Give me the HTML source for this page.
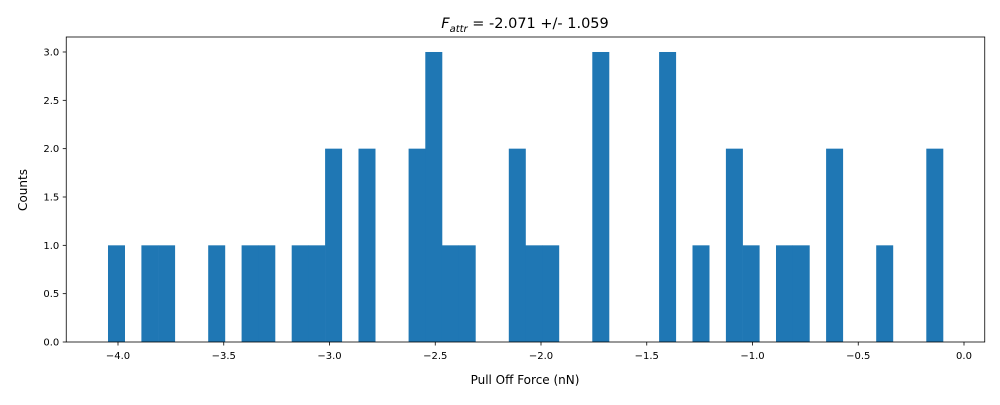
<!DOCTYPE html>
<html><head><meta charset="utf-8"><style>
body{margin:0;background:#fff}
text{font-family:"DejaVu Sans","Liberation Sans",sans-serif;fill:#000}
</style></head><body>
<svg id="chart" width="1000" height="400" xmlns="http://www.w3.org/2000/svg">
<rect width="1000" height="400" fill="#fff"/>
<text x="525" y="28" font-size="14.5" text-anchor="middle"><tspan font-style="italic">F</tspan><tspan font-style="italic" font-size="10" dy="4">attr</tspan><tspan dy="-4"> = -2.071 +/- 1.059</tspan></text>
<g id="bars"></g>
<g id="axes"></g>
<text x="525" y="384" font-size="12" text-anchor="middle">Pull Off Force (nN)</text>
<text x="0" y="0" font-size="12" text-anchor="middle" transform="translate(27,190) rotate(-90)">Counts</text>
</svg>
<script>
const binStart = -4.0473;
const binWidth = 0.07896;
const counts = [1,0,1,1,0,0,1,0,1,1,0,1,1,2,0,2,0,0,2,3,1,1,0,0,2,1,1,0,0,3,0,0,0,3,0,1,0,2,1,0,1,1,0,2,0,0,1,0,0,2];
const xTicks = [-4.0,-3.5,-3.0,-2.5,-2.0,-1.5,-1.0,-0.5,0.0];
const yTicks = [0,0.5,1.0,1.5,2.0,2.5,3.0];

const L=66.25,R=984.75,T=37,B=342;
const x=v=>118+(v+4)*211.5;
const y=v=>B-v*96.67;
const NS="http://www.w3.org/2000/svg";
const bars=document.getElementById('bars'), axes=document.getElementById('axes');
function mk(tag,attrs,parent){const e=document.createElementNS(NS,tag);for(const k in attrs)e.setAttribute(k,attrs[k]);parent.appendChild(e);return e;}
counts.forEach((c,i)=>{
  if(!c)return;
  const x0=x(binStart+i*binWidth), x1=x(binStart+(i+1)*binWidth);
  const r=mk('rect',{x:x0,y:y(c),width:x1-x0+0.3,height:y(0)-y(c),fill:'#1f77b4'},bars);
  
  
});
const frame=mk('rect',{x:L,y:T,width:R-L,height:B-T,fill:'none',stroke:'#000','stroke-width':0.8},axes);


xTicks.forEach(v=>{
  const px=x(v);
  mk('line',{x1:px,x2:px,y1:B,y2:B+3.5,stroke:'#000','stroke-width':0.8},axes);
  const t=mk('text',{x:px,y:B+17,'font-size':10,'text-anchor':'middle'},axes);
  t.textContent=(v<0?'\u2212':'')+Math.abs(v).toFixed(1);
  
  
});
yTicks.forEach(v=>{
  const py=y(v);
  mk('line',{x1:L-3.5,x2:L,y1:py,y2:py,stroke:'#000','stroke-width':0.8},axes);
  const t=mk('text',{x:L-7,y:py+3.5,'font-size':10,'text-anchor':'end'},axes);
  t.textContent=v.toFixed(1);
  
  
});
</script>
</body></html>
